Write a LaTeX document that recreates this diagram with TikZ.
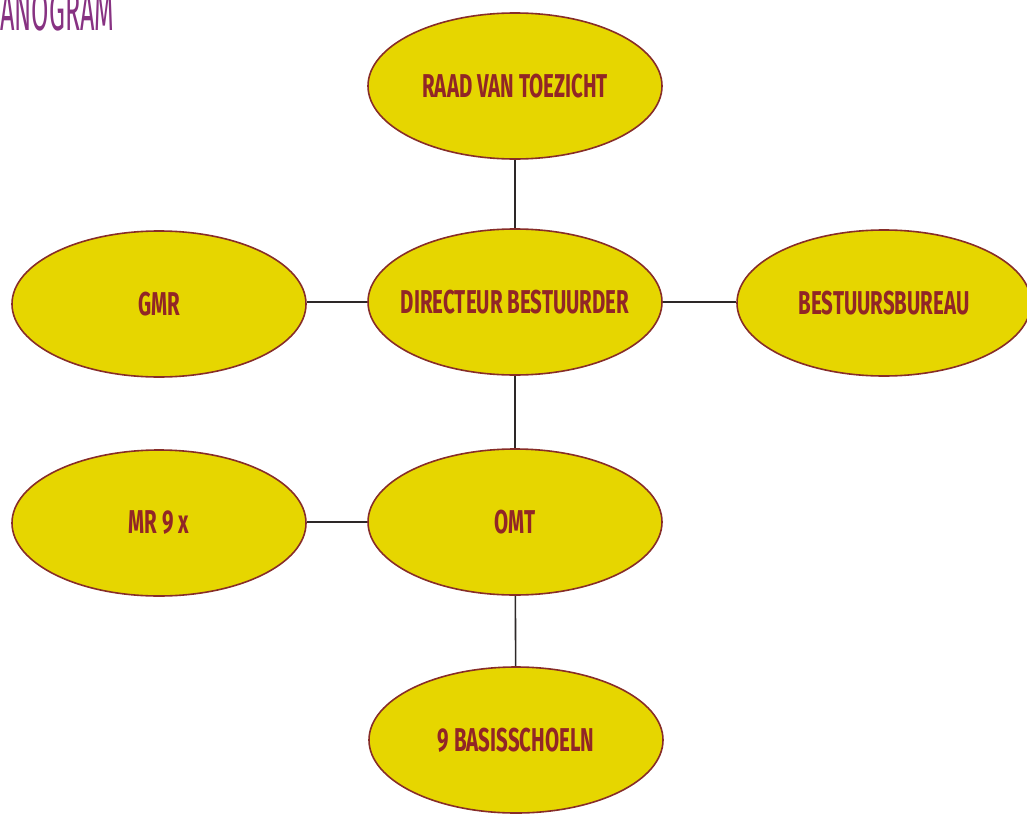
\documentclass[tikz,border=0pt]{standalone}
\usepackage{fontspec}
\setmainfont{Fira Sans}
\newfontfamily\condfont[FakeStretch=0.62]{Fira Sans}
\newfontfamily\titlefont[FakeStretch=0.45]{Fira Sans}
\usetikzlibrary{shapes.geometric}
\definecolor{ovalfill}{RGB}{230,214,0}
\definecolor{ovaledge}{RGB}{135,45,40}
\definecolor{ovaltext}{RGB}{145,38,38}
\definecolor{linkcol}{RGB}{45,40,40}
\definecolor{titlecol}{RGB}{135,50,130}
\newcommand{\ovallabel}[1]{\makebox[0pt]{#1}}
\begin{document}
\begin{tikzpicture}[x=1pt,y=-1pt,
  oval/.style={ellipse,draw=ovaledge,line width=1.6pt,fill=ovalfill,
    minimum width=294pt,minimum height=146pt,inner sep=0pt,
    text=ovaltext,font=\condfont\bfseries\fontsize{33}{36}\selectfont},
  link/.style={draw=linkcol,line width=1.6pt}]
\useasboundingbox (0,0) rectangle (1027,816);
\clip (0,0) rectangle (1027,816);
\node[anchor=base west,text=titlecol,font=\titlefont\fontsize{56}{56}\selectfont,inner sep=0pt] (title) at (0,31) {ANOGRAM};
\node[oval] (raad) at (515,86) {\ovallabel{RAAD VAN TOEZICHT}};
\node[oval] (dir) at (515,302) {\ovallabel{DIRECTEUR BESTUURDER}};
\node[oval] (gmr) at (159,304) {\ovallabel{GMR}};
\node[oval] (best) at (884,303) {\ovallabel{BESTUURSBUREAU}};
\node[oval] (mr) at (159,523) {\ovallabel{MR 9 x}};
\node[oval] (omt) at (515,522) {\ovallabel{OMT}};
\node[oval] (bas) at (516,740) {\ovallabel{9 BASISSCHOELN}};
\draw[link] (raad) -- (dir);
\draw[link] (gmr.east |- dir) -- (dir);
\draw[link] (dir) -- (best.west |- dir);
\draw[link] (dir) -- (omt);
\draw[link] (mr.east |- omt) -- (omt);
\draw[link] (omt) -- (bas);
\end{tikzpicture}
\end{document}
